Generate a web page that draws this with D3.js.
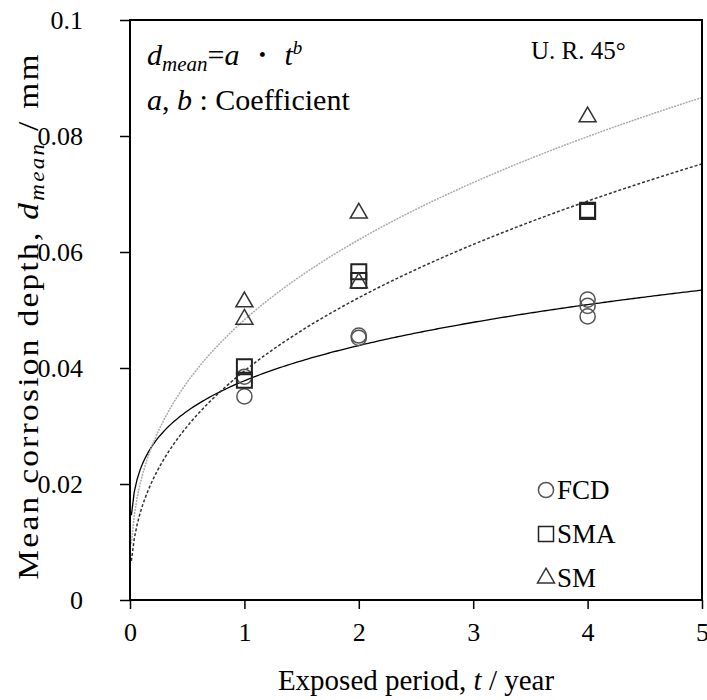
<!DOCTYPE html>
<html>
<head>
<meta charset="utf-8">
<title>Mean corrosion depth</title>
<script src="https://d3js.org/d3.v7.min.js"></script>
<style>
  body { margin: 0; background: #fff; }
</style>
</head>
<body>
<script>
// measured points (t in years, depth in mm)
var fcdT = [1, 1, 2, 2, 4, 4, 4];
var fcdD = [0.0351, 0.0385, 0.0456, 0.0452, 0.0518, 0.0507, 0.0489];
var smaT = [1, 1, 2, 2, 4, 4];
var smaD = [0.0402, 0.0379, 0.0566, 0.0551, 0.0672, 0.0670];
var smT = [1, 1, 2, 2, 4];
var smD = [0.0514, 0.0484, 0.0667, 0.0547, 0.0833];

// fitted power law d = a * t^b, one coefficient pair per series
var seriesNames = ["FCD", "SMA", "SM"];
var coefA = [0.0378, 0.0395, 0.0483];
var coefB = [0.215, 0.40, 0.363];

var xTicks = [0, 1, 2, 3, 4, 5];
var yTicks = [0, 0.02, 0.04, 0.06, 0.08, 0.1];

var SERIF = "Liberation Serif, Times New Roman, DejaVu Serif, serif";

var W = 707, H = 700;
var margin = {top: 20, right: 5, bottom: 100, left: 130};
var width = W - margin.left - margin.right,
    height = H - margin.top - margin.bottom;

var svg = d3.select("body").append("svg")
    .attr("width", W)
    .attr("height", H)
    .style("font-family", SERIF);

var g = svg.append("g")
    .attr("transform", "translate(" + margin.left + "," + margin.top + ")");

var x = d3.scaleLinear().domain([0, 5]).range([0, width]);
var y = d3.scaleLinear().domain([0, 0.1]).range([height, 0]);

// the vertical title in the source is drawn longer than its font size suggests
function label(px, py, size, stretch) {
  var tf = "translate(" + px + "," + py + ")" +
      (stretch ? " rotate(-90) scale(" + stretch + ",1)" : "");
  return svg.append("text")
      .attr("transform", tf)
      .style("font-family", SERIF)
      .style("font-size", size + "px")
      .attr("fill", "#000");
}

// fitted curves
var tSamples = d3.range(0, 201).map(function(i) { return 0.012 + i * (5 - 0.012) / 200; });
var line = d3.line()
    .x(function(d) { return x(d[0]); })
    .y(function(d) { return y(d[1]); });

var curveStyle = [
  {stroke: "#000", width: 1.3, dash: null},
  {stroke: "#333", width: 1.5, dash: "3,2"},
  {stroke: "#aaa", width: 1.5, dash: "2,1"}
];

seriesNames.forEach(function(name, i) {
  var pts = tSamples.map(function(t) { return [t, coefA[i] * Math.pow(t, coefB[i])]; });
  g.append("path")
      .datum(pts)
      .attr("fill", "none")
      .attr("stroke", curveStyle[i].stroke)
      .attr("stroke-width", curveStyle[i].width)
      .attr("stroke-dasharray", curveStyle[i].dash)
      .attr("d", line);
});

// markers
var symCircle = d3.symbol().type(d3.symbolCircle).size(180);
var symSquare = d3.symbol().type(d3.symbolSquare).size(225);
var symTri = d3.symbol().type(d3.symbolTriangle).size(125);

function drawPoints(ts, ds, sym, color, sw) {
  g.append("g").selectAll("path")
      .data(ts.map(function(t, i) { return [t, ds[i]]; }))
    .enter().append("path")
      .attr("transform", function(d) { return "translate(" + x(d[0]) + "," + y(d[1]) + ")"; })
      .attr("d", sym)
      .attr("fill", "none")
      .attr("stroke", color)
      .attr("stroke-width", sw);
}
drawPoints(fcdT, fcdD, symCircle, "#555", 1.5);
drawPoints(smaT, smaD, symSquare, "#222", 2);
drawPoints(smT, smD, symTri, "#333", 1.5);

// axes
var xAxis = d3.axisBottom(x).tickValues(xTicks).tickSize(9).tickPadding(14)
    .tickFormat(d3.format("d"));
var yAxis = d3.axisLeft(y).tickValues(yTicks).tickSize(10).tickPadding(37)
    .tickFormat(function(d) { return d === 0 ? "0" : String(+d.toFixed(2)); });

var gx = g.append("g").attr("transform", "translate(0," + height + ")").call(xAxis);
var gy = g.append("g").call(yAxis);
[gx, gy].forEach(function(a) {
  a.select(".domain").remove();
  a.selectAll("line").attr("stroke", "#000").attr("stroke-width", 1.5);
  a.selectAll("text")
      .style("font-family", SERIF)
      .style("font-size", "26px")
      .attr("fill", "#000");
});

// plot frame
g.append("rect")
    .attr("width", width).attr("height", height)
    .attr("fill", "none").attr("stroke", "#000").attr("stroke-width", 2);

// axis titles
var xt = label(margin.left + width / 2, 690, 29).attr("text-anchor", "middle");
xt.append("tspan").text("Exposed period, ");
xt.append("tspan").style("font-style", "italic").text("t");
xt.append("tspan").text(" / year");

var yt = label(38, 316, 29, 1.15).attr("text-anchor", "middle")
    .style("letter-spacing", "2px");
yt.append("tspan").text("Mean corrosion depth, ");
yt.append("tspan").style("font-style", "italic").text("d");
yt.append("tspan").style("font-style", "italic").style("font-size", "20px")
    .attr("dy", 6).text("mean");
yt.append("tspan").attr("dy", -6).text(" / mm");

// formula note
var f1 = label(147, 65, 30);
f1.append("tspan").style("font-style", "italic").text("d");
f1.append("tspan").style("font-style", "italic").style("font-size", "21px").attr("dy", 6).text("mean");
f1.append("tspan").attr("dy", -6).text("=");
f1.append("tspan").style("font-style", "italic").text("a");
f1.append("tspan").text(" \u30FB ");
f1.append("tspan").style("font-style", "italic").text("t");
f1.append("tspan").style("font-style", "italic").style("font-size", "19px").attr("dy", -11).text("b");

var f2 = label(147, 110, 30);
f2.append("tspan").style("font-style", "italic").text("a");
f2.append("tspan").text(", ");
f2.append("tspan").style("font-style", "italic").text("b");
f2.append("tspan").text(" : Coefficient");

label(531, 59, 25).text("U. R. 45\u00B0");

// legend
var legSyms = [symCircle, symSquare, symTri];
var legColors = ["#555", "#222", "#333"];
seriesNames.forEach(function(name, i) {
  var ly = 490 + i * 44;
  svg.append("path")
      .attr("transform", "translate(546," + ly + ")")
      .attr("d", legSyms[i])
      .attr("fill", "none").attr("stroke", legColors[i]).attr("stroke-width", 1.5);
  label(557, ly + 9, 27).text(name);
});
</script>
</body>
</html>
